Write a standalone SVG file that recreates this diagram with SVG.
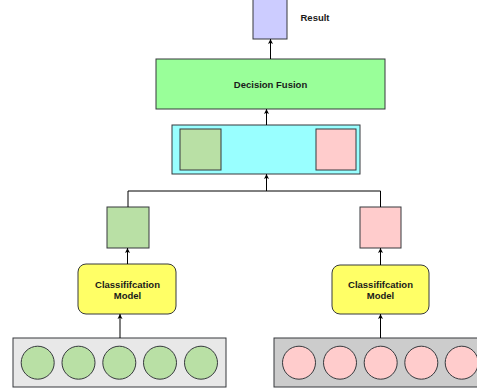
<svg xmlns="http://www.w3.org/2000/svg" width="477" height="388" viewBox="0 0 477 388">
<defs>
<marker id="ah" viewBox="0 0 10 10" refX="10" refY="5" markerWidth="5" markerHeight="6" orient="auto" markerUnits="userSpaceOnUse">
<path d="M0,0 L10,5 L0,10 L2.5,5 Z" fill="#000"/>
</marker>
</defs>
<style>
.box{stroke:#36393d;stroke-width:1}
.t{font-family:"Liberation Sans",Arial,sans-serif;font-weight:bold;font-size:9.5px;fill:#1a1a1a;text-anchor:middle}
.ln{stroke:#000;stroke-width:1;fill:none}
.g{fill:#b9e0a5}
.p{fill:#ffcccc}
</style>
<rect width="477" height="388" fill="#fff"/>
<g id="result">
<rect class="box" x="253" y="-2" width="34" height="41" fill="#ccccff"/>
<text class="t" x="300.5" y="21" style="text-anchor:start">Result</text>
</g>
<g id="decision-fusion">
<rect class="box" x="156" y="59" width="229" height="50" fill="#99ff99"/>
<text class="t" x="270.5" y="87.5">Decision Fusion</text>
</g>
<g id="fusion-concat">
<rect class="box" x="172" y="125" width="188" height="49" fill="#99ffff"/>
<rect class="box g" x="180" y="129" width="41" height="41"/>
<rect class="box p" x="316" y="129" width="40" height="41"/>
</g>
<g id="feature-left">
<rect class="box g" x="107" y="207" width="42" height="41"/>
</g>
<g id="feature-right">
<rect class="box p" x="360" y="207" width="41" height="41"/>
</g>
<g id="model-left">
<rect class="box" x="78" y="264" width="98" height="50" rx="8" fill="#ffff66"/>
<text class="t" x="127.5" y="287.5">Classififcation</text>
<text class="t" x="127.5" y="298.5">Model</text>
</g>
<g id="model-right">
<rect class="box" x="332" y="265" width="97" height="49" rx="8" fill="#ffff66"/>
<text class="t" x="380.5" y="287.5">Classififcation</text>
<text class="t" x="380.5" y="298.5">Model</text>
</g>
<g id="input-left">
<rect class="box" x="13" y="338" width="213" height="49" fill="#e8e8e8"/>
<circle class="box g" cx="37.7" cy="362.7" r="16.5"/>
<circle class="box g" cx="78.5" cy="362.7" r="16.5"/>
<circle class="box g" cx="119.3" cy="362.7" r="16.5"/>
<circle class="box g" cx="160" cy="362.7" r="16.5"/>
<circle class="box g" cx="201" cy="362.7" r="16.5"/>
</g>
<g id="input-right">
<rect class="box" x="274" y="338" width="213" height="49" fill="#cccccc"/>
<circle class="box p" cx="299" cy="362.7" r="16.5"/>
<circle class="box p" cx="340" cy="362.7" r="16.5"/>
<circle class="box p" cx="380.7" cy="362.7" r="16.5"/>
<circle class="box p" cx="421.3" cy="362.7" r="16.5"/>
<circle class="box p" cx="461.7" cy="362.7" r="16.5"/>
</g>
<g id="connectors">
<path class="ln" d="M270.5,59 V39" marker-end="url(#ah)"/>
<path class="ln" d="M266.5,125 V109" marker-end="url(#ah)"/>
<path class="ln" d="M128,207 V191 H380.5 V207"/>
<path class="ln" d="M266.5,191 V174" marker-end="url(#ah)"/>
<path class="ln" d="M127.5,264 V248" marker-end="url(#ah)"/>
<path class="ln" d="M380.5,265 V248" marker-end="url(#ah)"/>
<path class="ln" d="M120,338 V314" marker-end="url(#ah)"/>
<path class="ln" d="M380.5,338 V314" marker-end="url(#ah)"/>
</g>
</svg>
